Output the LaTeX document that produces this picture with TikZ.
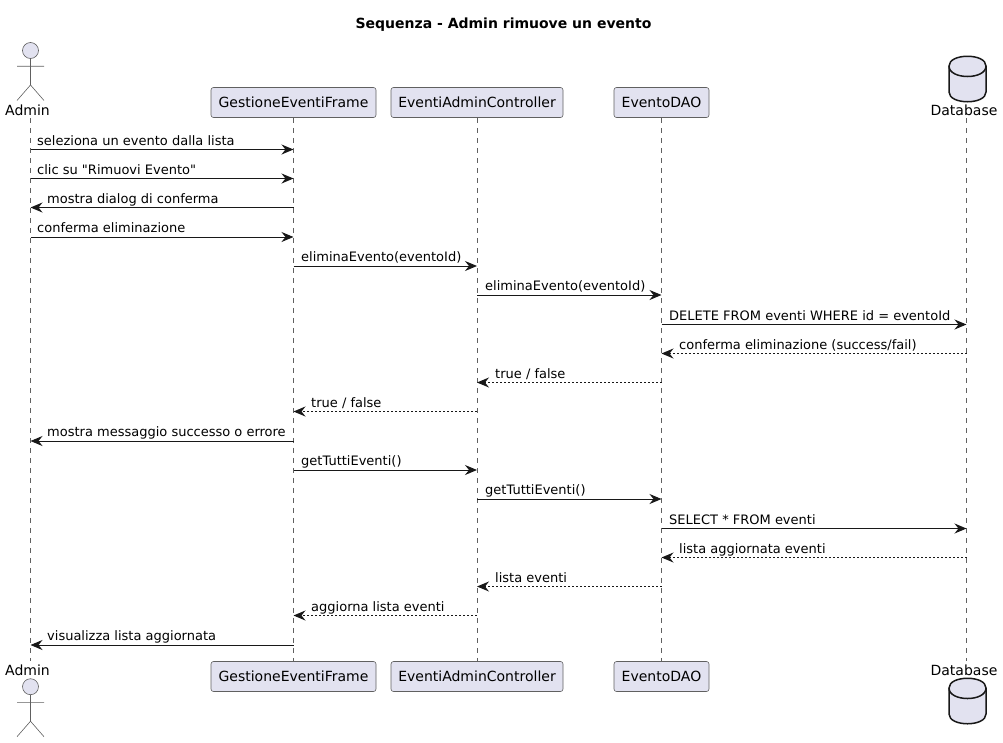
\documentclass[tikz,border=0pt]{standalone}
\usepackage{fontspec}
\setmainfont{DejaVu Sans}
\newfontfamily\plainfam{DejaVu Sans}
\usetikzlibrary{arrows.meta}
\definecolor{pfill}{HTML}{E2E2F0}
\definecolor{pline}{HTML}{181818}
\definecolor{thinl}{HTML}{606060}
\tikzset{
  x=1pt,y=-1pt,
  pbox/.style={draw=thinl,fill=pfill,line width=0.6pt,rounded corners=2.5pt,minimum height=30pt,inner sep=0pt,font=\fontsize{14}{16}\selectfont,text height=10.5pt,text depth=0pt},
  alabel/.style={anchor=base,inner sep=0pt,font=\fontsize{14}{16}\selectfont},
  life/.style={draw=thinl,line width=0.5pt,dash pattern=on 5pt off 5pt},
  stick/.style={draw=thinl,line width=0.6pt},
  dbline/.style={draw=pline,line width=1.5pt,fill=pfill},
  tipp/.style={-{Stealth[length=12pt,width=10pt,inset=4pt,color=pline]}},
  msg/.style={draw=pline,line width=1pt,tipp},
  rsp/.style={msg,dash pattern=on 2pt off 2pt},
  lbl/.style={anchor=base west,inner sep=0pt,font=\fontsize{13}{15}\selectfont,text=black},
}
% \msgline{name}{from}{to}{y}{style}{label x}{label}
\newcommand{\msgline}[7]{%
  \coordinate (#1s) at (#2 |- 0,#4);
  \coordinate (#1e) at (#3 |- 0,#4);
  \draw[#5] (#1s) -- (#1e);
  \node[lbl] (#1) at (#6,#4-4.2) {#7};
}
\newcommand{\actorfig}[2]{%
  \draw[stick,fill=pfill] (30.5,#2) circle (8);
  \draw[stick] (30.5,#2+8) -- (30.5,#2+34.5)
    (17,#2+15.7) -- (44,#2+15.7)
    (17,#2+50) -- (30.5,#2+34.5) -- (44,#2+50);
}
\newcommand{\dbfig}[2]{%
  \draw[dbline] (949,#2+10) .. controls (949,#2-3) and (986,#2-3) .. (986,#2+10)
     -- (986,#2+36) .. controls (986,#2+49) and (949,#2+49) .. (949,#2+36) -- cycle;
  \draw[draw=pline,line width=1.5pt] (949,#2+10) .. controls (949,#2+24) and (986,#2+24) .. (986,#2+10);
}
\begin{document}
\begin{tikzpicture}
\useasboundingbox (0,0) rectangle (1003,742);
\node[anchor=base,inner sep=0pt,font=\fontsize{14}{16}\selectfont\bfseries] (title) at (503.5,28) {Sequenza - Admin rimuove un evento};

% anchors on lifelines
\coordinate (adminT) at (30.5,118);
\coordinate (adminB) at (30.5,661);
\coordinate (dbT) at (966.5,118);
\coordinate (dbB) at (966.5,661);

% participant boxes
\node[pbox,minimum width=165pt] (gefT) at (293.5,102.5) {GestioneEventiFrame};
\node[pbox,minimum width=172pt] (eacT) at (477,102.5) {EventiAdminController};
\node[pbox,minimum width=95pt] (daoT) at (661.5,102.5) {EventoDAO};
\node[pbox,minimum width=165pt] (gefB) at (293.5,676.5) {GestioneEventiFrame};
\node[pbox,minimum width=172pt] (eacB) at (477,676.5) {EventiAdminController};
\node[pbox,minimum width=95pt] (daoB) at (661.5,676.5) {EventoDAO};

% lifelines
\draw[life] (adminT) -- (adminB);
\draw[life] (gefT) -- (gefB);
\draw[life] (eacT) -- (eacB);
\draw[life] (daoT) -- (daoB);
\draw[life] (dbT) -- (dbB);

% actors
\actorfig{a}{50.5}
\actorfig{b}{686.7}
\dbfig{a}{56}
\dbfig{b}{678}
\node[alabel] (adminTl) at (27.5,115) {Admin};
\node[alabel] (adminBl) at (27.5,675) {Admin};
\node[alabel] (dbTl) at (964,115) {Database};
\node[alabel] (dbBl) at (964,675) {Database};

% messages
\msgline{m1}{adminT}{gefT}{149.5}{msg}{37}{seleziona un evento dalla lista}
\msgline{m2}{adminT}{gefT}{178.5}{msg}{37}{\plainfam clic su "Rimuovi Evento"}
\msgline{m3}{gefT}{adminT}{207.5}{msg}{47}{mostra dialog di conferma}
\msgline{m4}{adminT}{gefT}{237}{msg}{37}{conferma eliminazione}
\msgline{m5}{gefT}{eacT}{266}{msg}{301}{eliminaEvento(eventoId)}
\msgline{m6}{eacT}{daoT}{295}{msg}{485}{eliminaEvento(eventoId)}
\msgline{m7}{daoT}{dbT}{324.5}{msg}{669}{DELETE FROM eventi WHERE id = eventoId}
\msgline{m8}{dbT}{daoT}{353.5}{rsp}{679}{conferma eliminazione (success/fail)}
\msgline{m9}{daoT}{eacT}{382.5}{rsp}{495}{true / false}
\msgline{m10}{eacT}{gefT}{411.5}{rsp}{311}{true / false}
\msgline{m11}{gefT}{adminT}{441}{msg}{47}{mostra messaggio successo o errore}
\msgline{m12}{gefT}{eacT}{470}{msg}{301}{getTuttiEventi()}
\msgline{m13}{eacT}{daoT}{499}{msg}{485}{getTuttiEventi()}
\msgline{m14}{daoT}{dbT}{528.5}{msg}{669}{SELECT * FROM eventi}
\msgline{m15}{dbT}{daoT}{557.5}{rsp}{679}{lista aggiornata eventi}
\msgline{m16}{daoT}{eacT}{586.5}{rsp}{495}{lista eventi}
\msgline{m17}{eacT}{gefT}{615.5}{rsp}{311}{aggiorna lista eventi}
\msgline{m18}{gefT}{adminT}{645}{msg}{47}{visualizza lista aggiornata}
\end{tikzpicture}
\end{document}
